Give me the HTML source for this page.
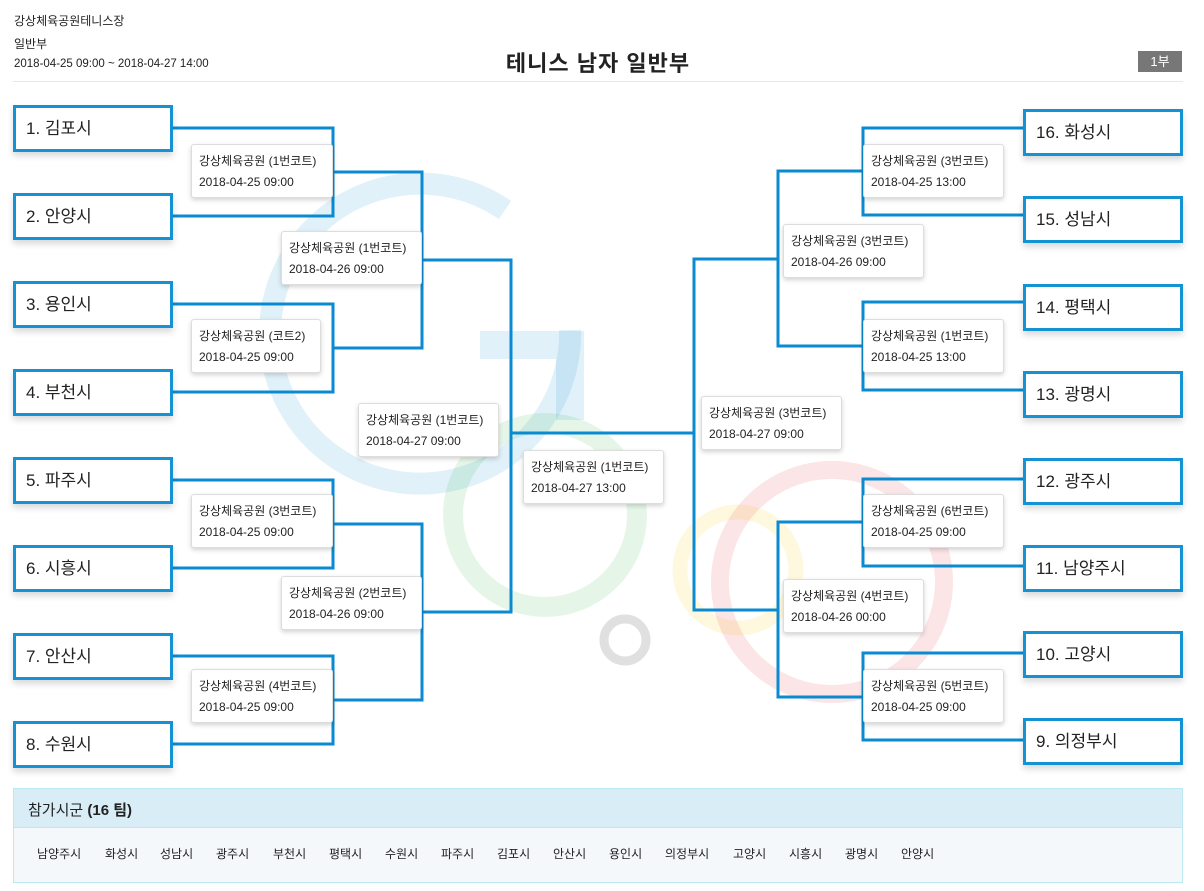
<!DOCTYPE html>
<html><head><meta charset="utf-8"><style>
body{margin:0;width:1204px;height:891px;background:#fff;position:relative;overflow:hidden;font-family:"Liberation Sans","Noto Sans CJK KR",sans-serif;color:#222}
.a{position:absolute;white-space:nowrap}
.t{position:absolute;height:41px;border:3px solid #1592d4;background:#fff;box-shadow:0 4px 6px rgba(0,0,0,.15);font-size:17px;line-height:41px;padding-left:10px;box-sizing:content-box;width:144px;white-space:nowrap}
.m{position:absolute;height:54px;border:1px solid #ddd;border-radius:3px;background:#fff;box-shadow:0 2px 5px rgba(0,0,0,.18);font-size:12px;box-sizing:border-box;white-space:nowrap}
.m div{position:absolute;left:7px}
.m .l1{top:7px}.m .l2{top:30px}
.hd{font-size:12px;left:14px}
</style></head><body>
<svg class="a" style="left:0;top:0" width="1204" height="891">
<g fill="none" stroke-width="22">
<path d="M505 210 A150 150 0 1 0 570 330" stroke="#0a8ad0" opacity=".12"/>
<path d="M480 345 H570 V420" stroke="#0a8ad0" opacity=".12" stroke-width="28"/>
<circle cx="545" cy="515" r="92" stroke="#2db34a" opacity=".12" stroke-width="20"/>
<circle cx="738" cy="570" r="58" stroke="#f5d000" opacity=".13" stroke-width="15"/>
<circle cx="832" cy="582" r="112" stroke="#e8343a" opacity=".13" stroke-width="18"/>
<circle cx="625" cy="640" r="21" stroke="#999" opacity=".3" stroke-width="9"/>
</g>
<g fill="none" stroke="#0a8ad0" stroke-width="3">
<path d="M173 128H333V216H173M173 304H333V392H173M173 480H333V568H173M173 656H333V744H173"/>
<path d="M333 172H422V348H333M333 524H422V700H333"/>
<path d="M422 260H511V612H422"/>
<path d="M511 433H694"/>
<path d="M1023 128H863V215H1023M1023 302H863V390H1023M1023 479H863V566H1023M1023 653H863V740H1023"/>
<path d="M863 171H778V346H863M863 522H778V697H863"/>
<path d="M778 259H694V610H778"/>
</g>
</svg>
<div class="a hd" style="top:12px">강상체육공원테니스장</div>
<div class="a hd" style="top:35px">일반부</div>
<div class="a hd" style="top:58px;font-size:11.5px">2018-04-25 09:00 ~ 2018-04-27 14:00</div>
<div class="a" style="left:0;width:1196px;top:46px;text-align:center;font-size:22px;font-weight:bold;letter-spacing:1px">테니스 남자 일반부</div>
<div class="a" style="left:1138px;top:51px;width:44px;height:21px;background:#777;color:#fff;font-size:13px;line-height:21px;text-align:center">1부</div>
<div class="a" style="left:13px;top:81px;width:1170px;height:1px;background:#e8e8e8"></div>

<div class="t" style="left:13px;top:105px">1. 김포시</div>
<div class="t" style="left:13px;top:193px">2. 안양시</div>
<div class="t" style="left:13px;top:281px">3. 용인시</div>
<div class="t" style="left:13px;top:369px">4. 부천시</div>
<div class="t" style="left:13px;top:457px">5. 파주시</div>
<div class="t" style="left:13px;top:545px">6. 시흥시</div>
<div class="t" style="left:13px;top:633px">7. 안산시</div>
<div class="t" style="left:13px;top:721px">8. 수원시</div>
<div class="t" style="left:1023px;top:109px">16. 화성시</div>
<div class="t" style="left:1023px;top:196px">15. 성남시</div>
<div class="t" style="left:1023px;top:284px">14. 평택시</div>
<div class="t" style="left:1023px;top:371px">13. 광명시</div>
<div class="t" style="left:1023px;top:458px">12. 광주시</div>
<div class="t" style="left:1023px;top:545px">11. 남양주시</div>
<div class="t" style="left:1023px;top:631px">10. 고양시</div>
<div class="t" style="left:1023px;top:718px">9. 의정부시</div>

<div class="m" style="left:191px;top:144px;width:142px"><div class="l1">강상체육공원 (1번코트)</div><div class="l2">2018-04-25 09:00</div></div>
<div class="m" style="left:191px;top:319px;width:130px"><div class="l1">강상체육공원 (코트2)</div><div class="l2">2018-04-25 09:00</div></div>
<div class="m" style="left:191px;top:494px;width:142px"><div class="l1">강상체육공원 (3번코트)</div><div class="l2">2018-04-25 09:00</div></div>
<div class="m" style="left:191px;top:669px;width:142px"><div class="l1">강상체육공원 (4번코트)</div><div class="l2">2018-04-25 09:00</div></div>
<div class="m" style="left:281px;top:231px;width:141px"><div class="l1">강상체육공원 (1번코트)</div><div class="l2">2018-04-26 09:00</div></div>
<div class="m" style="left:281px;top:576px;width:141px"><div class="l1">강상체육공원 (2번코트)</div><div class="l2">2018-04-26 09:00</div></div>
<div class="m" style="left:358px;top:403px;width:141px"><div class="l1">강상체육공원 (1번코트)</div><div class="l2">2018-04-27 09:00</div></div>
<div class="m" style="left:523px;top:450px;width:141px"><div class="l1">강상체육공원 (1번코트)</div><div class="l2">2018-04-27 13:00</div></div>
<div class="m" style="left:701px;top:396px;width:141px"><div class="l1">강상체육공원 (3번코트)</div><div class="l2">2018-04-27 09:00</div></div>
<div class="m" style="left:783px;top:224px;width:141px"><div class="l1">강상체육공원 (3번코트)</div><div class="l2">2018-04-26 09:00</div></div>
<div class="m" style="left:783px;top:579px;width:141px"><div class="l1">강상체육공원 (4번코트)</div><div class="l2">2018-04-26 00:00</div></div>
<div class="m" style="left:863px;top:144px;width:141px"><div class="l1">강상체육공원 (3번코트)</div><div class="l2">2018-04-25 13:00</div></div>
<div class="m" style="left:863px;top:319px;width:141px"><div class="l1">강상체육공원 (1번코트)</div><div class="l2">2018-04-25 13:00</div></div>
<div class="m" style="left:863px;top:494px;width:141px"><div class="l1">강상체육공원 (6번코트)</div><div class="l2">2018-04-25 09:00</div></div>
<div class="m" style="left:863px;top:669px;width:141px"><div class="l1">강상체육공원 (5번코트)</div><div class="l2">2018-04-25 09:00</div></div>

<div class="a" style="left:13px;top:788px;width:1168px;height:93px;border:1px solid #bce8f1;background:#f5f8fa"></div>
<div class="a" style="left:14px;top:789px;width:1168px;height:38px;background:#d9edf7;border-bottom:1px solid #bce8f1"></div>
<div class="a" style="left:28px;top:799px;font-size:15px">참가시군 <b>(16 팀)</b></div>
<div class="a" style="left:37px;top:845px;font-size:12px">
<span class="a" style="left:0">남양주시</span><span class="a" style="left:68px">화성시</span><span class="a" style="left:123px">성남시</span><span class="a" style="left:179px">광주시</span><span class="a" style="left:236px">부천시</span><span class="a" style="left:292px">평택시</span><span class="a" style="left:348px">수원시</span><span class="a" style="left:404px">파주시</span><span class="a" style="left:460px">김포시</span><span class="a" style="left:516px">안산시</span><span class="a" style="left:572px">용인시</span><span class="a" style="left:628px">의정부시</span><span class="a" style="left:696px">고양시</span><span class="a" style="left:752px">시흥시</span><span class="a" style="left:808px">광명시</span><span class="a" style="left:864px">안양시</span>
</div>
</body></html>
